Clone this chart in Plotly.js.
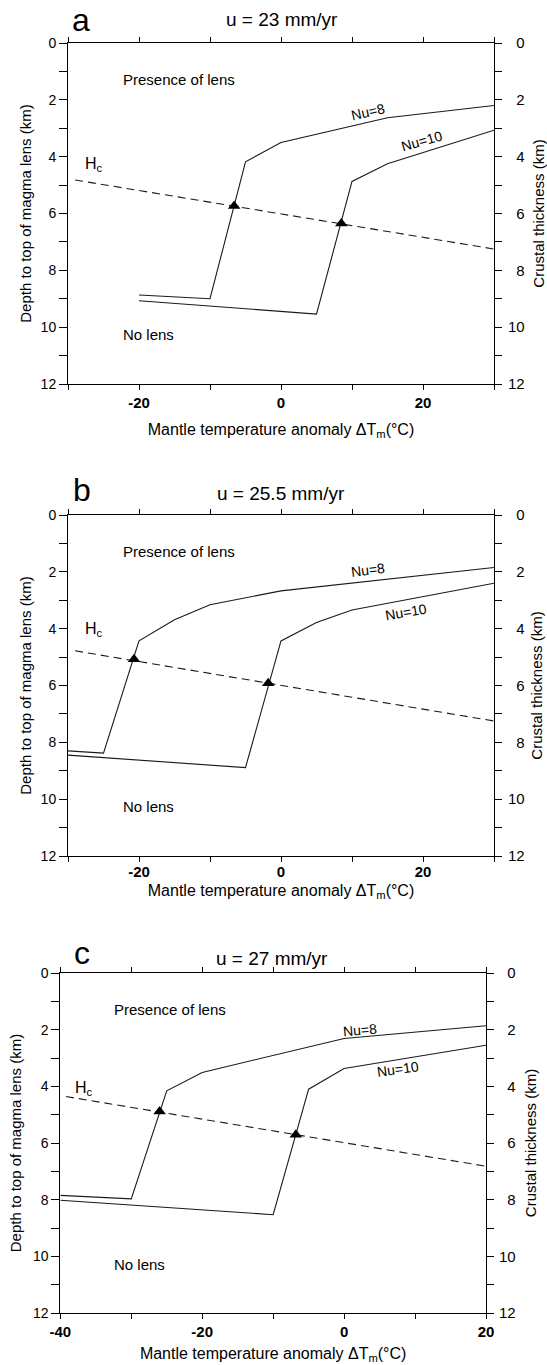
<!DOCTYPE html>
<html><head><meta charset="utf-8">
<script src="https://cdn.plot.ly/plotly-3.0.1.min.js"></script>
<style>html,body{margin:0;padding:0;background:#fff}</style>
</head><body><div id="chart" style="width:547px;height:1365px"></div>
<script>
// ---------- data ----------
// panel a : u = 23 mm/yr
const a_nu8_x  = [-20, -10, -5, 0, 15, 30];
const a_nu8_y  = [8.87, 9.0, 4.18, 3.5, 2.63, 2.2];
const a_nu10_x = [-20, 5, 10, 15, 30];
const a_nu10_y = [9.07, 9.54, 4.87, 4.25, 3.07];
const a_hc_x   = [-29, 30];
const a_hc_y   = [4.82, 7.25];
const a_tri_x  = [-6.6, 8.5];
const a_tri_y  = [5.74, 6.35];
// panel b : u = 25.5 mm/yr
const b_nu8_x  = [-30, -25, -20, -15, -10, 0, 30];
const b_nu8_y  = [8.3, 8.38, 4.43, 3.69, 3.16, 2.67, 1.85];
const b_nu10_x = [-30, -5, 0, 5, 10, 30];
const b_nu10_y = [8.45, 8.89, 4.43, 3.78, 3.34, 2.4];
const b_hc_x   = [-29, 30];
const b_hc_y   = [4.78, 7.25];
const b_tri_x  = [-20.7, -1.8];
const b_tri_y  = [5.08, 5.92];
// panel c : u = 27 mm/yr
const c_nu8_x  = [-40, -30, -25, -20, 0, 20];
const c_nu8_y  = [7.85, 7.97, 4.16, 3.51, 2.31, 1.86];
const c_nu10_x = [-40, -10, -5, 0, 20];
const c_nu10_y = [8.02, 8.53, 4.1, 3.37, 2.55];
const c_hc_x   = [-39.2, 20];
const c_hc_y   = [4.36, 6.82];
const c_tri_x  = [-26, -6.8];
const c_tri_y  = [4.89, 5.71];

const panelLetters = ['a', 'b', 'c'];
const panelTitles  = ['u = 23 mm/yr', 'u = 25.5 mm/yr', 'u = 27 mm/yr'];
const xTicksAB  = [-20, 0, 20];
const xLabelsAB = ['-20', '0', '20'];
const xTicksC   = [-40, -20, 0, 20];
const xLabelsC  = ['-40', '-20', '0', '20'];
const yTicks    = [0, 2, 4, 6, 8, 10, 12];
const yLabels   = ['0', '2', '4', '6', '8', '10', '12'];
const yLabelsR  = ['\u20070', '\u20072', '\u20074', '\u20076', '\u20078', '10', '12'];
const xTitleText = 'Mantle temperature anomaly \u0394T<sub>m</sub>(\u00B0C)';
const yTitleLeft = 'Depth to top of magma lens (km)';
const yTitleRight = 'Crustal thickness (km)';

// ---------- layout geometry ----------
const W = 547, H = 1365;
const FONT = 'Liberation Sans, Arial, sans-serif';
const px = v => v / W, py = v => 1 - v / H;

const panels = [
  {xa:'x',  ya:'y',  yr:'y2', box:[68,494,43,384],   range:[-30,30], xt:xTicksAB, xl:xLabelsAB,
   nu8x:a_nu8_x, nu8y:a_nu8_y, nu10x:a_nu10_x, nu10y:a_nu10_y, hcx:a_hc_x, hcy:a_hc_y, tx:a_tri_x, ty:a_tri_y,
   letter:[81,20], title:[282,20], xso:13, xlso:0, ylso:5, yrso:11, yrlso:3,
   pres:[-22.6,1.29], nol:[-22.6,10.26], n8:[12.2,2.43,-13], n10:[19.8,3.46,-16], hc:[-26.3,4.28]},
  {xa:'x2', ya:'y3', yr:'y4', box:[68,494,515,856],  range:[-30,30], xt:xTicksAB, xl:xLabelsAB,
   nu8x:b_nu8_x, nu8y:b_nu8_y, nu10x:b_nu10_x, nu10y:b_nu10_y, hcx:b_hc_x, hcy:b_hc_y, tx:b_tri_x, ty:b_tri_y,
   letter:[82,490], title:[281,493], xso:5, xlso:-3, ylso:5, yrso:7, yrlso:3,
   pres:[-22.6,1.28], nol:[-22.6,10.27], n8:[12.2,1.95,-7], n10:[17.6,3.4,-10], hc:[-26.3,4.04]},
  {xa:'x3', ya:'y5', yr:'y6', box:[60.3,486,973,1313], range:[-40,20], xt:xTicksC, xl:xLabelsC,
   nu8x:c_nu8_x, nu8y:c_nu8_y, nu10x:c_nu10_x, nu10y:c_nu10_y, hcx:c_hc_x, hcy:c_hc_y, tx:c_tri_x, ty:c_tri_y,
   letter:[82,953], title:[272,959], xso:8, xlso:0, ylso:7, yrso:10, yrlso:2,
   pres:[-32.7,1.28], nol:[-32.7,10.3], n8:[2.2,2.0,-5], n10:[7.6,3.4,-8], hc:[-36.7,4.08]}
];

const data = [];
const layout = {
  width: W, height: H, margin:{l:0,r:0,t:0,b:0},
  paper_bgcolor:'#fff', plot_bgcolor:'#fff', showlegend:false,
  font:{family:FONT, color:'#000', size:14},
  annotations: []
};
const lineStyle = {color:'#1a1a1a', width:1.1};

panels.forEach((p, i) => {
  const xn = p.xa === 'x' ? 'xaxis' : 'xaxis' + p.xa.slice(1);
  const yn = p.ya === 'y' ? 'yaxis' : 'yaxis' + p.ya.slice(1);
  const yrn = 'yaxis' + p.yr.slice(1);
  const [l, r, t, b] = p.box;
  layout[xn] = {domain:[px(l), px(r)], anchor:p.ya, range:p.range, tickmode:'array',
    tickvals:p.xt, ticktext:p.xl, ticks:'outside', ticklen:5, tickwidth:1, tickcolor:'#000',
    ticklabelstandoff:p.xlso,
    minor:{dtick:10, tick0:0, ticks:'outside', ticklen:5, tickwidth:1, tickcolor:'#000', showgrid:false},
    mirror:'ticks', showline:true, linecolor:'#000', linewidth:1, showgrid:false, zeroline:false,
    tickfont:{size:15, weight:'bold', family:FONT},
    title:{text:xTitleText, standoff:p.xso, font:{size:16, family:FONT}}, automargin:false};
  layout[yn] = {domain:[py(b), py(t)], anchor:p.xa, range:[12,0], tickmode:'array',
    tickvals:yTicks, ticktext:yLabels, ticks:'outside', ticklen:8, tickwidth:1, tickcolor:'#000',
    minor:{dtick:1, tick0:0, ticks:'outside', ticklen:8, tickwidth:1, tickcolor:'#000', showgrid:false},
    showline:true, linecolor:'#000', linewidth:1, showgrid:false, zeroline:false,
    tickfont:{size:14, family:FONT},
    title:{text:yTitleLeft, standoff:p.ylso, font:{size:15, family:FONT}}, automargin:false};
  layout[yrn] = {overlaying:p.ya, side:'right', anchor:p.xa, range:[12,0], tickmode:'array',
    tickvals:yTicks, ticktext:yLabelsR, ticks:'outside', ticklen:7, tickwidth:1, tickcolor:'#000',
    ticklabelstandoff:p.yrlso,
    minor:{dtick:1, tick0:0, ticks:'outside', ticklen:7, tickwidth:1, tickcolor:'#000', showgrid:false},
    showline:true, linecolor:'#000', linewidth:1, showgrid:false, zeroline:false,
    tickfont:{size:15, family:FONT},
    title:{text:yTitleRight, standoff:p.yrso, font:{size:15, family:FONT}}, automargin:false};

  data.push({x:p.nu8x, y:p.nu8y, xaxis:p.xa, yaxis:p.ya, mode:'lines', line:lineStyle, name:'Nu=8', hoverinfo:'skip'});
  data.push({x:p.nu10x, y:p.nu10y, xaxis:p.xa, yaxis:p.ya, mode:'lines', line:lineStyle, name:'Nu=10', hoverinfo:'skip'});
  data.push({x:p.hcx, y:p.hcy, xaxis:p.xa, yaxis:p.ya, mode:'lines', line:{color:'#1a1a1a', width:1.1, dash:'8px,5px'}, name:'Hc', hoverinfo:'skip'});
  data.push({x:p.tx, y:p.ty, xaxis:p.xa, yaxis:p.ya, mode:'markers', marker:{symbol:'triangle-up', size:11, color:'#000'}, name:'crossing', hoverinfo:'skip'});
  // invisible trace on the right axis so it is drawn
  data.push({x:[p.range[0]], y:[0], xaxis:p.xa, yaxis:p.yr, mode:'markers', marker:{opacity:0}, hoverinfo:'skip', showlegend:false});

  const A = layout.annotations;
  A.push({text:panelLetters[i], xref:'paper', yref:'paper', x:px(p.letter[0]), y:py(p.letter[1]), xanchor:'center', yanchor:'middle', showarrow:false, font:{size:32, family:FONT}});
  A.push({text:panelTitles[i], xref:'paper', yref:'paper', x:px(p.title[0]), y:py(p.title[1]), xanchor:'center', yanchor:'middle', showarrow:false, font:{size:19, family:FONT}});
  A.push({text:'Presence of lens', xref:p.xa, yref:p.ya, x:p.pres[0], y:p.pres[1], xanchor:'left', yanchor:'middle', showarrow:false, font:{size:15, family:FONT}});
  A.push({text:'No lens', xref:p.xa, yref:p.ya, x:p.nol[0], y:p.nol[1], xanchor:'left', yanchor:'middle', showarrow:false, font:{size:15, family:FONT}});
  A.push({text:'Nu=8', xref:p.xa, yref:p.ya, x:p.n8[0], y:p.n8[1], textangle:p.n8[2], xanchor:'center', yanchor:'middle', showarrow:false, font:{size:14, family:FONT}});
  A.push({text:'Nu=10', xref:p.xa, yref:p.ya, x:p.n10[0], y:p.n10[1], textangle:p.n10[2], xanchor:'center', yanchor:'middle', showarrow:false, font:{size:14, family:FONT}});
  A.push({text:'H<sub>c</sub>', xref:p.xa, yref:p.ya, x:p.hc[0], y:p.hc[1], xanchor:'center', yanchor:'middle', showarrow:false, font:{size:16, family:FONT}});
});

Plotly.newPlot('chart', data, layout, {staticPlot:true, displayModeBar:false});
</script>
</body></html>
